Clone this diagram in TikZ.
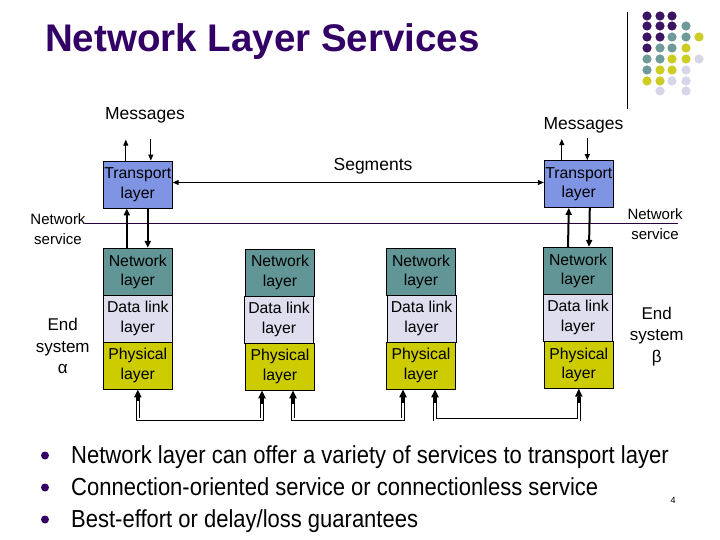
\documentclass[tikz,border=0pt]{standalone}
\usepackage{fontspec}
\setmainfont{Liberation Sans}
\usetikzlibrary{arrows.meta,calc}
\definecolor{ttl}{RGB}{51,0,102}
\definecolor{dP}{RGB}{60,20,100}
\definecolor{dT}{RGB}{110,154,154}
\definecolor{dY}{RGB}{204,204,34}
\definecolor{dL}{RGB}{214,214,232}
\definecolor{trC}{RGB}{128,148,228}
\definecolor{netC}{RGB}{98,150,150}
\definecolor{dlC}{RGB}{222,222,238}
\definecolor{phC}{RGB}{204,204,0}
\definecolor{svc}{RGB}{40,0,60}
\tikzset{
  layerbox/.style={draw=black, line width=0.8pt, minimum width=69pt, minimum height=47pt,
    inner sep=0pt, align=center, font=\fontsize{15.8}{19.5}\selectfont},
  trbox/.style={layerbox, fill=trC},
  netbox/.style={layerbox, fill=netC},
  dlbox/.style={layerbox, fill=dlC},
  phbox/.style={layerbox, fill=phC},
  lbl/.style={align=center, inner sep=0pt},
  msgarrow/.style={line width=1pt, -{Triangle[length=6pt,width=5pt]}},
  nsarrow/.style={line width=2pt, -{Triangle[length=7pt,width=6pt]}},
  segarrow/.style={line width=1pt, {Triangle[length=6pt,width=5pt]}-{Triangle[length=6pt,width=5pt]}},
  dbl/.style={draw=black, line width=0.7pt, double=white, double distance=2pt},
  tiparrow/.style={line width=2.2pt, -{Triangle[length=8pt,width=7pt]}},
  dot/.style={inner sep=0pt, minimum size=9.2pt, circle},
}
\begin{document}
\begin{tikzpicture}[x=1pt,y=-1pt]
\useasboundingbox (0,0) rectangle (720,540);
\fill[white] (0,0) rectangle (720,540);

% title
\node[anchor=base west, inner sep=0pt, text=ttl, font=\fontsize{38.5}{40}\selectfont\bfseries] (title) at (45,52) {Network Layer Services};

% decoration
\draw[line width=1pt, black] (627,12) -- (627,109);
\foreach \x/\y/\c [count=\i] in {
 647/16/dP, 660/16/dP, 672/16/dP,
 647/26/dP, 660/26/dP, 672/26/dP, 686/26/dT,
 647/37/dP, 660/37/dP, 672/37/dT, 686/37/dT, 699/37/dY,
 647/48/dP, 660/48/dT, 672/48/dT, 686/48/dY,
 647/59/dT, 660/59/dT, 672/59/dY, 686/59/dY, 699/59/dL,
 647/70/dT, 660/70/dY, 672/70/dY, 686/70/dL,
 647/81/dY, 660/81/dY, 672/81/dL, 686/81/dL,
 660/91/dL, 686/91/dL}
 \node[dot, fill=\c] (d\i) at (\x,\y) {};

% transport layers
\node[trbox] (tl) at (137.8,184.5) {Transport\\layer};
\node[trbox] (tr) at (578.8,184) {Transport\\layer};

% stacks
\node[netbox] (n1) at (137.8,271.7) {Network\\layer};
\node[dlbox]  (l1) at (137.8,318.5) {Data link\\layer};
\node[phbox]  (p1) at (137.8,365.5) {Physical\\layer};

\node[netbox] (n2) at (280,272.5) {Network\\layer};
\node[dlbox]  (l2) at (279,319.5) {Data link\\layer};
\node[phbox]  (p2) at (280,366.5) {Physical\\layer};

\node[netbox] (n3) at (421,271.7) {Network\\layer};
\node[dlbox]  (l3) at (421.5,318.5) {Data link\\layer};
\node[phbox]  (p3) at (421,365.5) {Physical\\layer};

\node[netbox] (n4) at (578,270.8) {Network\\layer};
\node[dlbox]  (l4) at (578,317.5) {Data link\\layer};
\node[phbox]  (p4) at (578.8,364.7) {Physical\\layer};

% labels
\node[lbl, font=\fontsize{17.5}{20}\selectfont] (m1) at (145,115) {Messages};
\node[lbl, font=\fontsize{17.5}{20}\selectfont] (m2) at (583.5,125) {Messages};
\node[lbl, font=\fontsize{17.5}{20}\selectfont] (sg) at (373,166) {Segments};
\node[lbl, font=\fontsize{15}{20}\selectfont] (ns1) at (58,229) {Network\\service};
\node[lbl, font=\fontsize{15}{20}\selectfont] (ns2) at (655,224) {Network\\service};
\node[lbl, font=\fontsize{17}{21.5}\selectfont] (es1) at (62.7,346) {End\\system\\α};
\node[lbl, font=\fontsize{17}{21.5}\selectfont] (es2) at (656.7,336.5) {End\\system\\β};

% network service line
\coordinate (nsl) at (85,223.3);
\coordinate (nsr) at (678,223.3);
\draw[svc, line width=1pt] (nsl) -- (nsr);

% message arrows
\draw[msgarrow] ($(tl.north)+(-12,0)$) -- ++(0,-21);
\draw[msgarrow] ($(tl.north)+(13,-22)$) -- ($(tl.north)+(13,0)$);
\draw[msgarrow] ($(tr.north)+(-17,0)$) -- ++(0,-21);
\draw[msgarrow] ($(tr.north)+(8.5,-22)$) -- ($(tr.north)+(8.5,0)$);

% segments
\draw[segarrow] ($(tl.east)+(0,-2)$) -- ($(tr.west)+(0,-1.5)$);

% transport <-> network
\draw[nsarrow] ($(n1.north)+(-11,0)$) -- ($(tl.south)+(-11,0)$);
\draw[nsarrow] ($(tl.south)+(10,0)$) -- ($(n1.north)+(10,0)$);
\draw[nsarrow] ($(n4.north)+(-10,0)$) -- ($(tr.south)+(-10,0)$);
\draw[nsarrow] ($(tr.south)+(11,0)$) -- ($(n4.north)+(11,0)$);

% physical links
\draw[dbl] ($(p1.south)+(0,8)$) |- ($(p2.south)+(-18,29)$) -- ($(p2.south)+(-18,8)$);
\draw[dbl] ($(p2.south)+(13,8)$) |- ($(p3.south)+(-18,30)$) -- ($(p3.south)+(-18,8)$);
\draw[dbl] ($(p3.south)+(14,8)$) |- ($(p4.south)+(0,31)$) -- ($(p4.south)+(0,8)$);
\draw[tiparrow] ($(p1.south)+(0,12)$) -- (p1.south);
\draw[tiparrow] ($(p2.south)+(-18,14)$) -- ($(p2.south)+(-18,0)$);
\draw[tiparrow] ($(p2.south)+(13,14)$) -- ($(p2.south)+(13,0)$);
\draw[tiparrow] ($(p3.south)+(-18,14)$) -- ($(p3.south)+(-18,0)$);
\draw[tiparrow] ($(p3.south)+(14,14)$) -- ($(p3.south)+(14,0)$);
\draw[tiparrow] ($(p4.south)+(0,14)$) -- (p4.south);

% bullets
\foreach \y/\t [count=\i] in {463/{Network layer can offer a variety of services to transport layer},
  495/{Connection-oriented service or connectionless service},
  527/{Best-effort or delay/loss guarantees}} {
  \node[dot, fill=ttl, minimum size=8pt] (b\i) at (45,\y-7.5) {};
  \node[anchor=base west, inner sep=0pt, font=\fontsize{22}{24}\selectfont] (t\i) at (71,\y) {\scalebox{1}[1.12]{\t}};
}
\node[inner sep=0pt, font=\fontsize{9}{10}\selectfont] (pg) at (673,500) {4};
\end{tikzpicture}
\end{document}
